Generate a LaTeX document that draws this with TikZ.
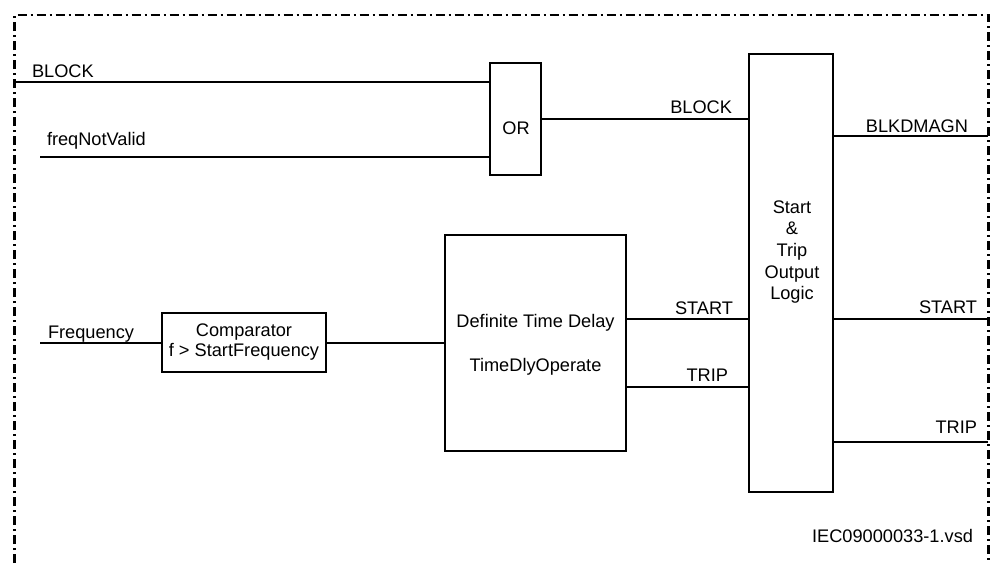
\documentclass[tikz,border=0pt]{standalone}
\usepackage{fontspec}
\setmainfont{Liberation Sans}
\begin{document}
\begin{tikzpicture}[x=1pt,y=-1pt,
  every node/.style={font=\fontsize{18.2}{21}\selectfont, inner sep=0pt, outer sep=0pt},
  box/.style={draw, line width=1.2pt, rectangle, align=center},
  wire/.style={line width=1.2pt},
  frame/.style={line width=2.8pt, dash pattern=on 9pt off 4pt on 2pt off 4pt},
  lbl/.style={anchor=base west},
  rlbl/.style={anchor=base east}]
\useasboundingbox (0,0) rectangle (991,563);
% frame
\coordinate (fbl) at (14.7,563);
\coordinate (ftl) at (14.7,15);
\coordinate (ftr) at (988.5,15);
\coordinate (fbr) at (988.5,563);
\draw[frame] (fbl) -- (ftl) -- (ftr) -- (fbr);
% boxes
\node[box, minimum width=51pt, minimum height=112pt] (or) at (515.5,119) {};
\node (ortext) at (516,128.5) {OR};
\node[box, minimum width=84pt, minimum height=438pt] (logic) at (791,273) {};
\node[align=center, font=\fontsize{18.2}{21.7}\selectfont] (logictext) at (792,252) {Start\\\&\\Trip\\Output\\Logic};
\node[box, minimum width=164pt, minimum height=59pt, font=\fontsize{18.2}{20}\selectfont] (comp) at (244,342.5) {Comparator\\f > StartFrequency};
\node[box, minimum width=181pt, minimum height=216pt] (dtd) at (535.5,343) {};
\node[align=center] (dtdtext) at (535.5,345) {Definite Time Delay\\[23pt]TimeDlyOperate};
% free ends
\coordinate (bin) at (15,82);
\coordinate (fin) at (40,157);
\coordinate (qin) at (40,343);
\coordinate (bko) at (988,136);
\coordinate (sy) at (0,319);
\coordinate (ty) at (0,387);
\coordinate (so) at (988,319);
\coordinate (to) at (988,442);
% wires
\draw[wire] (bin) -- (or.west |- bin);
\draw[wire] (fin) -- (or.west |- fin);
\draw[wire] (or.east) -- (logic.west |- or.east);
\draw[wire] (logic.east |- bko) -- (bko);
\draw[wire] (qin) -- (comp.west |- qin);
\draw[wire] (comp.east |- qin) -- (dtd.west |- qin);
\draw[wire] (dtd.east |- sy) -- (logic.west |- sy);
\draw[wire] (dtd.east |- ty) -- (logic.west |- ty);
\draw[wire] (logic.east |- so) -- (so);
\draw[wire] (logic.east |- to) -- (to);
% labels
\node[lbl] (lblock) at (32,77) {BLOCK};
\node[lbl] (lfnv) at (47,145) {freqNotValid};
\node[lbl] (lfreq) at (48,338) {Frequency};
\node[rlbl] (lblock2) at (732,113) {BLOCK};
\node[rlbl] (lblk) at (968,132) {BLKDMAGN};
\node[rlbl] (lstart) at (733,314) {START};
\node[rlbl] (ltrip) at (728,381) {TRIP};
\node[rlbl] (lstarto) at (977,313) {START};
\node[rlbl] (ltripo) at (977,433) {TRIP};
\node[rlbl] (liec) at (973,542) {IEC09000033-1.vsd};
\end{tikzpicture}
\end{document}
